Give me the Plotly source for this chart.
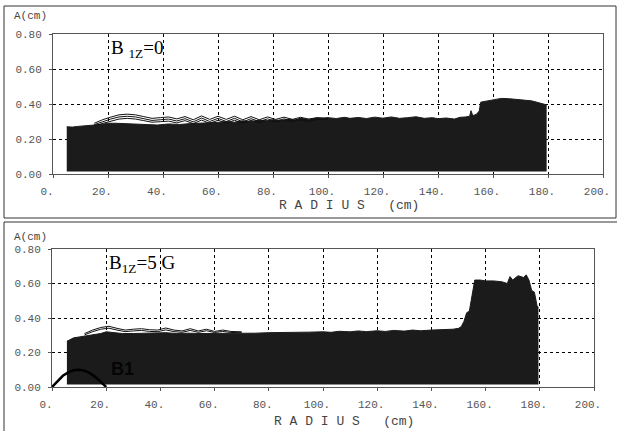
import plotly.graph_objects as go

# ---- data ----
# upper panel, B1Z = 0 : envelope of the beam amplitude
r_top = [5, 7, 9, 11, 13, 15, 18, 20, 23, 26, 30, 34, 38, 42, 46, 50, 55, 60, 63, 66,
         69, 72, 75, 78, 80, 83, 86, 88, 90, 93, 96, 98, 100, 103, 106, 108, 111, 114,
         117, 120, 123, 126, 129, 132, 135, 138, 140, 143, 146, 148, 150, 151.5, 152,
         152.5, 153, 154, 155, 155.5, 156, 158, 160, 163, 166, 169, 172, 174, 176, 178,
         179.5]
a_top = [0.27, 0.268, 0.272, 0.276, 0.278, 0.28, 0.284, 0.29, 0.29, 0.288, 0.285, 0.283,
         0.28, 0.286, 0.283, 0.288, 0.29, 0.295, 0.3, 0.296, 0.304, 0.3, 0.308, 0.303,
         0.31, 0.306, 0.314, 0.309, 0.318, 0.312, 0.32, 0.315, 0.322, 0.317, 0.324, 0.318,
         0.323, 0.317, 0.325, 0.319, 0.326, 0.318, 0.322, 0.327, 0.318, 0.322, 0.316,
         0.32, 0.314, 0.324, 0.326, 0.33, 0.362, 0.34, 0.335, 0.342, 0.36, 0.41, 0.412,
         0.418, 0.425, 0.432, 0.43, 0.426, 0.424, 0.418, 0.41, 0.4, 0.395]

# wavy outer trajectories above the envelope (upper panel)
r_wave_top = [15, 18, 21, 24, 27, 30, 33, 36, 39, 42, 45, 48, 51, 54, 57, 60, 63, 66,
              69, 72, 75, 78, 81, 84, 87, 90, 93, 96, 100]
w1_top = [0.29, 0.31, 0.325, 0.338, 0.342, 0.338, 0.328, 0.318, 0.322, 0.326, 0.315,
          0.328, 0.31, 0.332, 0.312, 0.33, 0.312, 0.33, 0.31, 0.328, 0.31, 0.326, 0.312,
          0.325, 0.312, 0.324, 0.314, 0.322, 0.32]
w2_top = [0.282, 0.3, 0.314, 0.326, 0.33, 0.326, 0.316, 0.306, 0.31, 0.314, 0.303,
          0.316, 0.298, 0.32, 0.3, 0.318, 0.3, 0.318, 0.298, 0.316, 0.3, 0.315, 0.302,
          0.315, 0.304, 0.316, 0.306, 0.316, 0.316]
w3_top = [0.276, 0.29, 0.302, 0.314, 0.318, 0.314, 0.305, 0.296, 0.299, 0.302, 0.292,
          0.305, 0.288, 0.308, 0.29, 0.307, 0.291, 0.307, 0.29, 0.306, 0.292, 0.306, 0.296,
          0.307, 0.298, 0.309, 0.3, 0.311, 0.312]

# lower panel, B1Z = 5 G
r_bot = [5.5, 8, 10, 12, 15, 18, 20, 23, 26, 30, 34, 38, 42, 46, 50, 55, 60, 65, 70, 75,
         80, 85, 90, 95, 100, 103, 106, 110, 113, 116, 120, 123, 126, 130, 133, 136, 140,
         144, 148, 150, 151, 152, 153, 154, 155, 156, 158, 160, 163, 166, 168, 169, 170,
         172, 174, 175, 176, 177, 178, 179, 179.5]
a_bot = [0.265, 0.285, 0.29, 0.295, 0.305, 0.31, 0.32, 0.315, 0.31, 0.31, 0.312, 0.31,
         0.315, 0.31, 0.312, 0.31, 0.31, 0.312, 0.31, 0.312, 0.315, 0.315, 0.318, 0.318,
         0.32, 0.317, 0.323, 0.32, 0.325, 0.321, 0.326, 0.322, 0.328, 0.324, 0.33, 0.326,
         0.33, 0.332, 0.335, 0.34, 0.35, 0.38, 0.43, 0.44, 0.54, 0.62, 0.62, 0.615, 0.615,
         0.61, 0.6, 0.64, 0.62, 0.645, 0.635, 0.65, 0.62, 0.56, 0.55, 0.47, 0.46]

r_wave_bot = [12, 15, 18, 21, 24, 27, 30, 33, 36, 39, 42, 45, 48, 51, 54, 57, 60, 63,
              66, 70]
w1_bot = [0.31, 0.33, 0.345, 0.352, 0.34, 0.33, 0.335, 0.338, 0.332, 0.33, 0.342, 0.33,
          0.325, 0.338, 0.325, 0.335, 0.322, 0.33, 0.322, 0.32]
w2_bot = [0.302, 0.321, 0.335, 0.341, 0.33, 0.321, 0.325, 0.328, 0.322, 0.321, 0.331,
          0.321, 0.317, 0.328, 0.317, 0.326, 0.316, 0.322, 0.316, 0.315]

# B1 profile drawn near the origin
r_b1 = [0, 2, 4, 6, 8, 10, 12, 14, 16, 18, 20]
a_b1 = [0, 0.035, 0.065, 0.085, 0.097, 0.1, 0.095, 0.08, 0.058, 0.03, 0]

base_level = 0.015

x_ticks = [0, 20, 40, 60, 80, 100, 120, 140, 160, 180, 200]
x_labels = ["0.", "20.", "40.", "60.", "80.", "100.", "120.", "140.", "160.", "180.", "200."]
y_ticks = [0, 0.2, 0.4, 0.6, 0.8]
y_labels = ["0.00", "0.20", "0.40", "0.60", "0.80"]

W, H = 617, 431
FILL = "#1b1b1b"
MONO = "Liberation Mono, Courier New, monospace"


def px(x):
    return x / W


def py(y):
    return 1 - y / H


fig = go.Figure()


def add_beam(r, a, xa, ya):
    fig.add_trace(go.Scatter(x=r, y=[base_level] * len(r), mode="lines",
                             line=dict(width=0, color=FILL), xaxis=xa, yaxis=ya,
                             showlegend=False, hoverinfo="skip"))
    fig.add_trace(go.Scatter(x=r, y=a, mode="lines", fill="tonexty", fillcolor=FILL,
                             line=dict(width=1, color=FILL), xaxis=xa, yaxis=ya,
                             showlegend=False))


def add_wave(r, w, xa, ya):
    fig.add_trace(go.Scatter(x=r, y=w, mode="lines", line=dict(width=1, color="#111111"),
                             xaxis=xa, yaxis=ya, showlegend=False))


add_beam(r_top, a_top, "x", "y")
for w in (w3_top, w2_top, w1_top):
    add_wave(r_wave_top, w, "x", "y")

add_beam(r_bot, a_bot, "x2", "y2")
for w in (w2_bot, w1_bot):
    add_wave(r_wave_bot, w, "x2", "y2")

fig.add_trace(go.Scatter(x=r_b1, y=a_b1, mode="lines", line=dict(width=2.5, color="black"),
                         xaxis="x2", yaxis="y2", showlegend=False))

xcommon = dict(range=[0, 200], tickvals=x_ticks, ticktext=x_labels, automargin=False,
               showgrid=True, gridcolor="black", gridwidth=1, griddash="3px,3px",
               showline=True, linecolor="#555", linewidth=1, mirror=True,
               ticks="outside", ticklen=3, tickcolor="#555",
               tickfont=dict(family=MONO, size=11, color="#555"),
               ticklabelstandoff=4, ticklabelshift=-6, zeroline=False)
ycommon = dict(range=[0, 0.8], tickvals=y_ticks, ticktext=y_labels, automargin=False,
               showgrid=True, gridcolor="black", gridwidth=1, griddash="3px,3px",
               showline=True, linecolor="#555", linewidth=1, mirror=True,
               ticks="outside", ticklen=3, tickcolor="#555",
               tickfont=dict(family=MONO, size=11, color="#555"),
               ticklabelstandoff=5, zeroline=False)

fig.update_layout(
    width=W, height=H,
    margin=dict(l=0, r=0, t=0, b=0, autoexpand=False),
    paper_bgcolor="white", plot_bgcolor="white",
    xaxis=dict(xcommon, domain=[px(53), px(603)], anchor="y"),
    yaxis=dict(ycommon, domain=[py(174), py(34)], anchor="x"),
    xaxis2=dict(xcommon, domain=[px(52), px(594)], anchor="y2"),
    yaxis2=dict(ycommon, domain=[py(387), py(249)], anchor="x2"),
)

# panel frames
fig.add_shape(type="rect", xref="paper", yref="paper", x0=px(4), x1=px(616),
              y0=py(218), y1=py(6), line=dict(color="#333", width=1))
fig.add_shape(type="rect", xref="paper", yref="paper", x0=px(4), x1=px(622),
              y0=py(440), y1=py(222), line=dict(color="#333", width=1))

label_font = dict(family=MONO, size=11, color="#444")
radius_text = "R\u00a0A\u00a0D\u00a0I\u00a0U\u00a0S\u00a0\u00a0\u00a0(cm)"
for ytop, yrad, xrad in ((16, 205, 277), (237, 421, 272)):
    fig.add_annotation(text="A(cm)", xref="paper", yref="paper", x=px(12), y=py(ytop),
                       xanchor="left", yanchor="middle", showarrow=False, font=label_font)
    fig.add_annotation(text=radius_text, xref="paper", yref="paper",
                       x=px(xrad), y=py(yrad), xanchor="left", yanchor="middle",
                       showarrow=False, font=dict(label_font, size=13))

serif = dict(family="Liberation Serif, Times New Roman, serif", size=19, color="black")
fig.add_annotation(text="B <sub>1Z</sub>=0", xref="paper", yref="paper", x=px(109), y=py(49),
                   xanchor="left", yanchor="middle", showarrow=False, font=serif)
fig.add_annotation(text="B<sub>1Z</sub>=5 G", xref="paper", yref="paper", x=px(107), y=py(264),
                   xanchor="left", yanchor="middle", showarrow=False, font=serif)
fig.add_annotation(text="<b>B1</b>", x=26, y=0.105, xref="x2", yref="y2", xanchor="center",
                   yanchor="middle", showarrow=False,
                   font=dict(family="Liberation Sans, Arial, sans-serif", size=18, color="#050505"))

# the page body has a default 8px margin; drop it so the figure sits at the window origin
fig.write_html("out.html", config={"displayModeBar": False},
               post_script="document.body.style.margin='0';")
